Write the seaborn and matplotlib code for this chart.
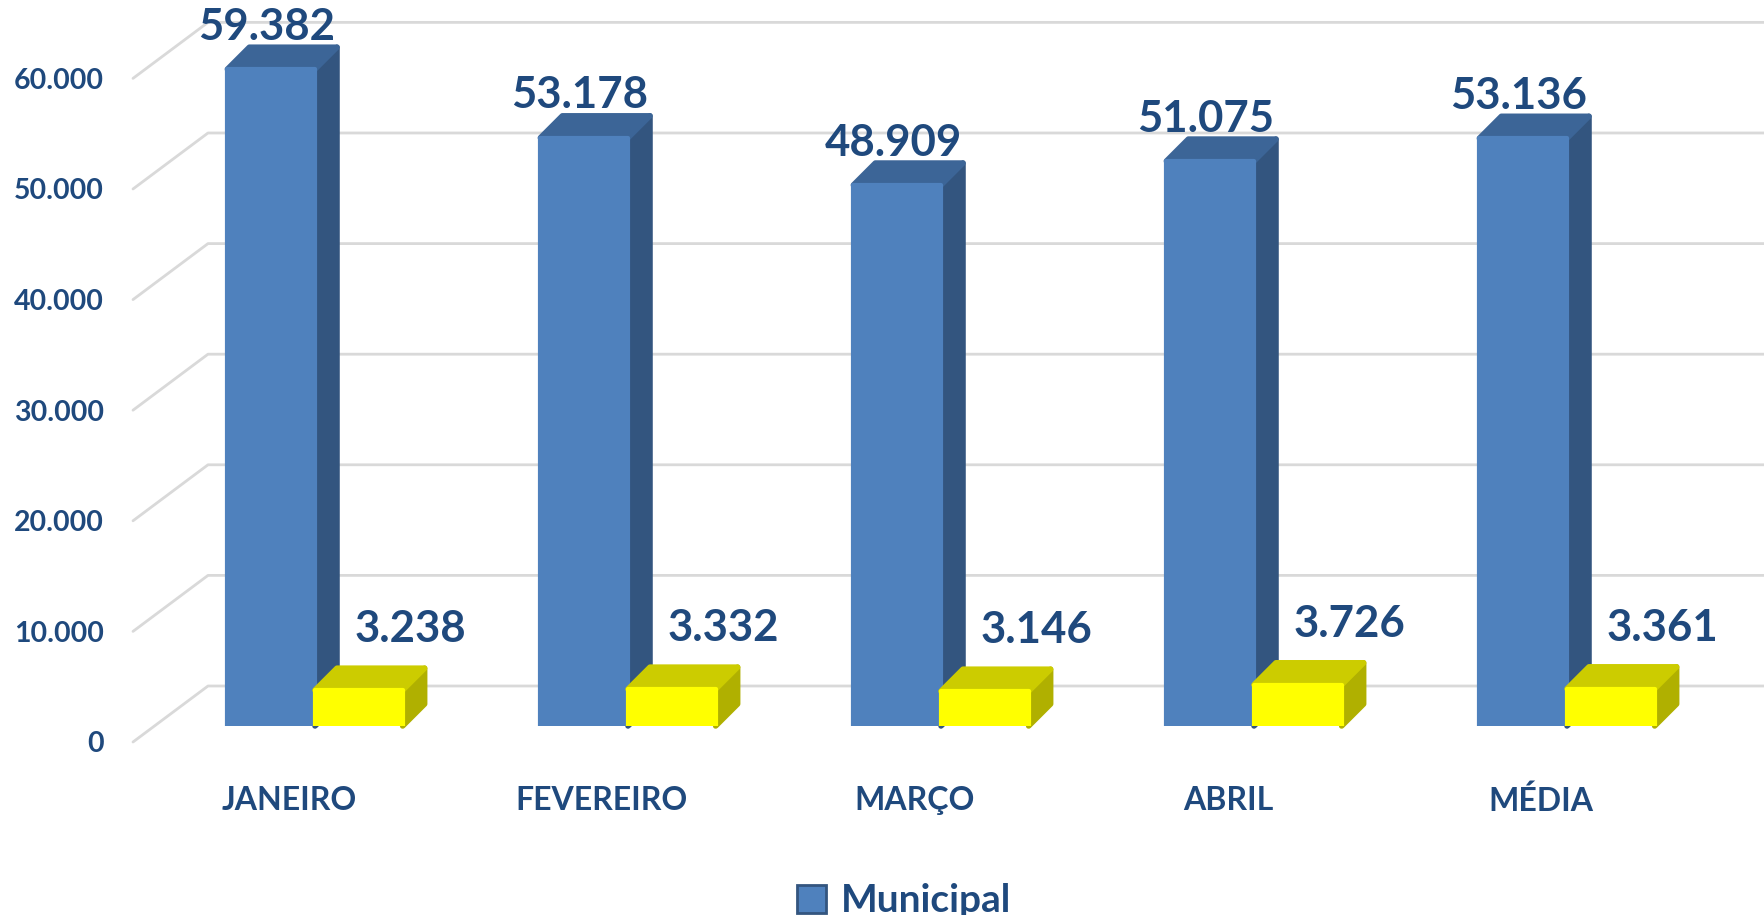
import pandas as pd
import matplotlib.pyplot as plt
import matplotlib.transforms as mtransforms
from matplotlib.patches import Polygon, Patch
from matplotlib.lines import Line2D
import seaborn as sns

meses = ['JANEIRO', 'FEVEREIRO', 'MARÇO', 'ABRIL', 'MÉDIA']
municipal = [59382, 53178, 48909, 51075, 53136]
estadual = [3238, 3332, 3146, 3726, 3361]
y_ticks = [0, 10000, 20000, 30000, 40000, 50000, 60000]

TXT = '#1F497D'
BLUE, BLUE_SIDE, BLUE_TOP = '#4F81BD', '#33557F', '#3C6597'
YEL, YEL_SIDE, YEL_TOP = '#FFFF00', '#B0B000', '#CCCC00'


def fmt(v):
    return f'{v:,}'.replace(',', '.')


def add_faces(ax, bar, side_col, top_col, z, depth=(22, 22)):
    # fake 3D: side and top faces built from the bar's own geometry
    dx, dy = depth
    x0, y0 = bar.get_x(), bar.get_y()
    x1, y1 = x0 + bar.get_width(), y0 + bar.get_height()
    (ax0, ay0), (ax1, ay1) = ax.transData.transform([(x0, y0), (x1, y1)])
    side = Polygon([(ax1, ay0), (ax1, ay1), (ax1 + dx, ay1 + dy), (ax1 + dx, ay0 + dy)],
                   closed=True, facecolor=side_col, edgecolor=side_col, lw=4,
                   joinstyle='round', transform=mtransforms.IdentityTransform(),
                   zorder=z, clip_on=False)
    top = Polygon([(ax0, ay1), (ax1, ay1), (ax1 + dx, ay1 + dy), (ax0 + dx, ay1 + dy)],
                  closed=True, facecolor=top_col, edgecolor=top_col, lw=4,
                  joinstyle='round', transform=mtransforms.IdentityTransform(),
                  zorder=z, clip_on=False)
    ax.add_artist(side)
    ax.add_artist(top)


sns.set_style('white')
plt.rcParams['font.family'] = ['Lato', 'DejaVu Sans']
plt.rcParams['font.weight'] = 'bold'

df = pd.DataFrame({
    'mes': meses * 2,
    'valor': municipal + estadual,
    'serie': ['Municipal'] * len(meses) + ['Estadual'] * len(meses),
})

fig = plt.figure(figsize=(17.64, 9.15), dpi=100)
ax = fig.add_axes([133 / 1764, 189 / 915, 1 - 133 / 1764, 726 / 915])

sns.barplot(data=df, x='mes', y='valor', hue='serie', hue_order=['Municipal', 'Estadual'],
            palette={'Municipal': BLUE, 'Estadual': YEL}, width=0.56, dodge=True,
            saturation=1, legend=False, errorbar=None, ax=ax)

ax.set_xlim((133 - 315) / 313, (1764 - 315) / 313)
ax.set_ylim(0, 65640)
for s in ax.spines.values():
    s.set_visible(False)
ax.set_xlabel('')
ax.set_ylabel('')

ax.set_yticks(y_ticks)
ax.set_yticklabels([fmt(v) for v in y_ticks])
ax.tick_params(axis='y', length=0, pad=21, labelsize=20.5, labelcolor=TXT)
ax.tick_params(axis='x', length=0, pad=43, labelsize=23, labelcolor=TXT)
down = mtransforms.ScaledTranslation(0, -0.16, fig.dpi_scale_trans)
for lab in ax.get_yticklabels():
    lab.set_transform(lab.get_transform() + down)
left = mtransforms.ScaledTranslation(-0.26, 0, fig.dpi_scale_trans)
for lab in ax.get_xticklabels():
    lab.set_transform(lab.get_transform() + left)

# gridlines: diagonal from front label to back wall, then across the back wall
fx = ax.transAxes.transform((0, 0))[0]
for v in y_ticks:
    yd = ax.transData.transform((0, v))[1]
    ln = Line2D([fx, fx + 75, 1764], [yd - 16, yd + 40, yd + 40], color='#D9D9D9', lw=2,
                transform=mtransforms.IdentityTransform(), zorder=0.5, clip_on=False)
    ax.add_artist(ln)

for bar in ax.containers[0]:
    bar.set_zorder(3)
    bar.set_edgecolor(BLUE)
    bar.set_linewidth(3)
    bar.set_joinstyle('round')
    add_faces(ax, bar, BLUE_SIDE, BLUE_TOP, 2.9)
for bar in ax.containers[1]:
    bar.set_zorder(5)
    bar.set_edgecolor(YEL)
    bar.set_linewidth(3)
    bar.set_joinstyle('round')
    add_faces(ax, bar, YEL_SIDE, YEL_TOP, 4.9)

for bar, v in zip(ax.containers[0], municipal):
    ax.annotate(fmt(v), (bar.get_x() + bar.get_width() / 2, v), xytext=(-3, 30.5),
                textcoords='offset points', ha='center', va='center',
                fontsize=31.5, fontweight='bold', color=TXT, zorder=6)
for bar, v in zip(ax.containers[1], estadual):
    ax.annotate(fmt(v), (bar.get_x() + bar.get_width() / 2, v), xytext=(37, 44),
                textcoords='offset points', ha='center', va='center',
                fontsize=31.5, fontweight='bold', color=TXT, zorder=6)

fig.legend(handles=[Patch(facecolor=BLUE, edgecolor=BLUE_SIDE, lw=2)], labels=['Municipal'],
           loc='center', bbox_to_anchor=(904 / 1764, 14 / 915), frameon=False,
           fontsize=28, labelcolor=TXT, handlelength=0.75, handleheight=0.75, handletextpad=0.4)

fig.savefig('out.png', dpi=100, facecolor='white')
